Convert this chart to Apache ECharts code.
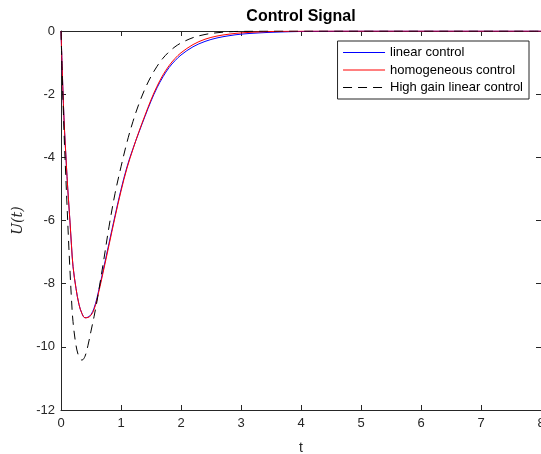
<!DOCTYPE html>
<html>
<head>
<meta charset="utf-8">
<script src="https://cdn.jsdelivr.net/npm/echarts@6/dist/echarts.min.js"></script>
<style>
html,body{margin:0;padding:0;background:#fff;}
#chart{width:541px;height:454px;}
</style>
</head>
<body>
<div id="chart"></div>
<script>
// time samples (s)
var timeValues = [0, 0.02, 0.04, 0.06, 0.08, 0.1, 0.125, 0.15, 0.175, 0.2, 0.25, 0.3, 0.35, 0.4, 0.45, 0.5, 0.55, 0.6, 0.7, 0.8, 0.9, 1.0, 1.1, 1.2, 1.3, 1.4, 1.5, 1.6, 1.7, 1.8, 1.9, 2.0, 2.2, 2.4, 2.6, 2.8, 3.0, 3.3, 3.6, 4.0, 4.5, 5, 6, 7, 8];
// linear control
var linearControl = [0, -1.2, -2.3, -3.2, -3.9, -4.6, -5.35, -6.05, -6.8, -7.45, -8.15, -8.66, -8.95, -9.08, -9.06, -8.98, -8.78, -8.45, -7.6, -6.72, -5.85, -5.02, -4.3, -3.72, -3.2, -2.7, -2.22, -1.8, -1.45, -1.16, -0.94, -0.76, -0.5, -0.33, -0.22, -0.15, -0.1, -0.06, -0.035, -0.015, -0.005, 0, 0, 0, 0];
// homogeneous control
var homogeneousControl = [0, -1.2, -2.3, -3.2, -3.9, -4.6, -5.35, -6.05, -6.8, -7.45, -8.15, -8.66, -8.95, -9.08, -9.07, -9.0, -8.82, -8.5, -7.66, -6.78, -5.9, -5.07, -4.34, -3.74, -3.18, -2.67, -2.18, -1.75, -1.39, -1.1, -0.87, -0.69, -0.43, -0.26, -0.16, -0.1, -0.06, -0.03, -0.012, -0.004, 0, 0, 0, 0, 0];
// high gain linear control
var highGainControl = [0, -1.4, -2.6, -3.7, -4.6, -5.5, -6.6, -7.6, -8.5, -9.2, -9.95, -10.32, -10.42, -10.3, -9.95, -9.5, -9.05, -8.55, -7.4, -6.2, -5.15, -4.3, -3.52, -2.86, -2.3, -1.83, -1.44, -1.12, -0.86, -0.66, -0.5, -0.38, -0.21, -0.11, -0.055, -0.025, -0.01, -0.003, 0, 0, 0, 0, 0, 0, 0];

var seriesNames = ['linear control', 'homogeneous control', 'High gain linear control'];
var xTicks = [0, 1, 2, 3, 4, 5, 6, 7, 8];
var yTicks = [-12, -10, -8, -6, -4, -2, 0];

function pairs(vals) {
  return timeValues.map(function (t, i) { return [t, vals[i]]; });
}

var font = "'Liberation Sans', Arial, Helvetica, sans-serif";
var axisColor = '#262626';

var chart = echarts.init(document.getElementById('chart'), null, {renderer: 'canvas'});
var baseX = {
  type: 'value', min: xTicks[0], max: xTicks[xTicks.length - 1], interval: 1,
  axisLine: {show: true, onZero: false, lineStyle: {color: axisColor, width: 1}},
  axisTick: {show: true, inside: true, length: 5, lineStyle: {color: axisColor}},
  splitLine: {show: false}
};
var baseY = {
  type: 'value', min: yTicks[0], max: yTicks[yTicks.length - 1], interval: 2,
  axisLine: {show: true, onZero: false, lineStyle: {color: axisColor, width: 1}},
  axisTick: {show: true, inside: true, length: 5, lineStyle: {color: axisColor}},
  splitLine: {show: false}
};

chart.setOption({
  animation: false,
  backgroundColor: '#fff',
  title: {
    text: 'Control Signal',
    left: 296, top: 4, textAlign: 'center',
    textStyle: {fontFamily: font, fontSize: 16, fontWeight: 'bold', color: '#000'}
  },
  grid: {left: 61, right: 0, top: 31, bottom: 44, outerBoundsMode: 'none'},
  legend: {
    data: seriesNames,
    orient: 'vertical',
    right: 12, top: 41,
    itemWidth: 42, itemHeight: 14, itemGap: 4.5,
    padding: [5, 6, 5, 5],
    borderColor: axisColor, borderWidth: 1,
    backgroundColor: '#fff',
    itemStyle: {opacity: 0},
    lineStyle: {width: 1},
    textStyle: {fontFamily: font, fontSize: 13, color: '#000'}
  },
  xAxis: [
    Object.assign({}, baseX, {
      position: 'bottom',
      name: 't', nameLocation: 'middle', nameGap: 31,
      nameTextStyle: {fontFamily: font, fontSize: 14, color: axisColor},
      axisLabel: {show: true, margin: 7, fontFamily: font, fontSize: 13, color: axisColor}
    }),
    Object.assign({}, baseX, {position: 'top', axisLabel: {show: false}})
  ],
  yAxis: [
    Object.assign({}, baseY, {
      position: 'left',
      name: 'U(t)', nameLocation: 'middle', nameGap: 26,
      nameTextStyle: {fontFamily: "'DejaVu Serif', 'Liberation Serif', serif", fontStyle: 'italic', fontSize: 14, color: axisColor},
      axisLabel: {show: true, margin: 6, fontFamily: font, fontSize: 13, color: axisColor}
    }),
    Object.assign({}, baseY, {position: 'right', axisLabel: {show: false}})
  ],
  series: [
    {
      name: seriesNames[0], type: 'line', data: pairs(linearControl),
      symbol: 'none', smooth: 0.35,
      lineStyle: {color: '#0000ff', width: 1}, itemStyle: {color: '#0000ff'}, z: 2
    },
    {
      name: seriesNames[1], type: 'line', data: pairs(homogeneousControl),
      symbol: 'none', smooth: 0.35,
      lineStyle: {color: '#ff0000', width: 1}, itemStyle: {color: '#ff0000'}, z: 3
    },
    {
      name: seriesNames[2], type: 'line', data: pairs(highGainControl),
      symbol: 'none', smooth: 0.35,
      lineStyle: {color: '#000000', width: 1, type: [9, 6]}, itemStyle: {color: '#000000'}, z: 4
    }
  ]
});
</script>
</body>
</html>
